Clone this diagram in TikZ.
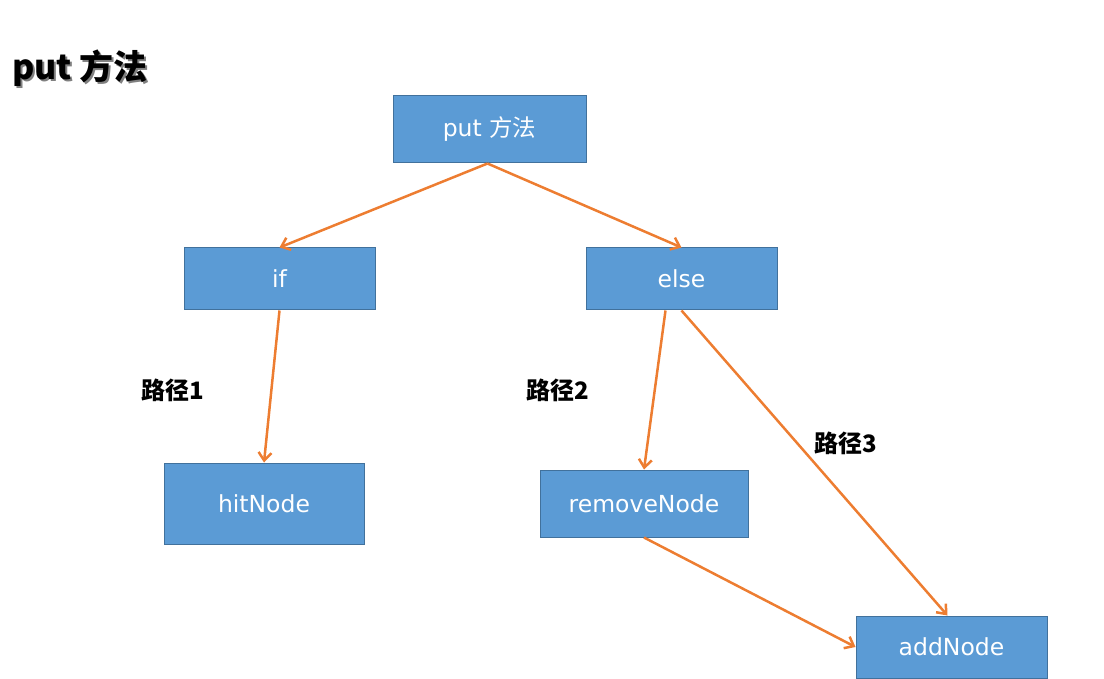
\documentclass[tikz,border=0pt]{standalone}
\usepackage{fontspec}
\setmainfont{DejaVu Sans}
\newfontfamily\cjk{Noto Sans CJK SC}
\usetikzlibrary{arrows.meta}
\definecolor{boxfill}{HTML}{5B9BD5}
\definecolor{boxline}{HTML}{41719C}
\definecolor{arr}{HTML}{ED7D31}
\tikzset{
  blk/.style={draw=boxline, line width=1pt, fill=boxfill, text=white, inner sep=0pt, font=\fontsize{23.5}{27}\selectfont},
  conn/.style={draw=arr, line width=2.5pt, -{Straight Barb[length=8pt,width=13pt,line width=2.5pt]}},
  lbl/.style={font=\cjk\bfseries\fontsize{24}{27}\selectfont, text=black}
}
\begin{document}
\begin{tikzpicture}[x=1pt,y=-1pt]
\useasboundingbox (0,0) rectangle (1104,679);
% title with shadow
\node[font=\cjk\bfseries\fontsize{34}{38}\selectfont, text=black!50, anchor=west, inner sep=0pt] (titleshadow) at (14,70) {put 方法};
\node[font=\cjk\bfseries\fontsize{34}{38}\selectfont, text=black, anchor=west, inner sep=0pt] (title) at (12,68) {put 方法};
% boxes
\node[blk, minimum width=193pt, minimum height=67pt] (put) at (489.5,129.5) {put {\cjk 方法}};
\node[blk, minimum width=191pt, minimum height=62pt] (if) at (279.5,279) {if};
\node[blk, minimum width=191pt, minimum height=62pt] (else) at (681.5,279) {else};
\node[blk, minimum width=200pt, minimum height=81pt] (hit) at (264,503.5) {hitNode};
\node[blk, minimum width=208pt, minimum height=67pt] (rem) at (644,503.5) {removeNode};
\node[blk, minimum width=191pt, minimum height=62pt] (add) at (951.5,647) {addNode};
% labels
\node[lbl] (l1) at (173,390) {路径1};
\node[lbl] (l2) at (558,390) {路径2};
\node[lbl] (l3) at (846,443) {路径3};
% connectors
\coordinate (putb) at ([xshift=-2pt]put.south);
\draw[conn] (putb) -- (if.north);
\draw[conn] (putb) -- (else.north);
\draw[conn] (if.south) -- (hit.north);
\draw[conn] ([xshift=-16pt]else.south) -- (rem.north);
\draw[conn] (else.south) -- ([xshift=-4pt]add.north);
\draw[conn] (rem.south) -- (add.west);
\end{tikzpicture}
\end{document}
